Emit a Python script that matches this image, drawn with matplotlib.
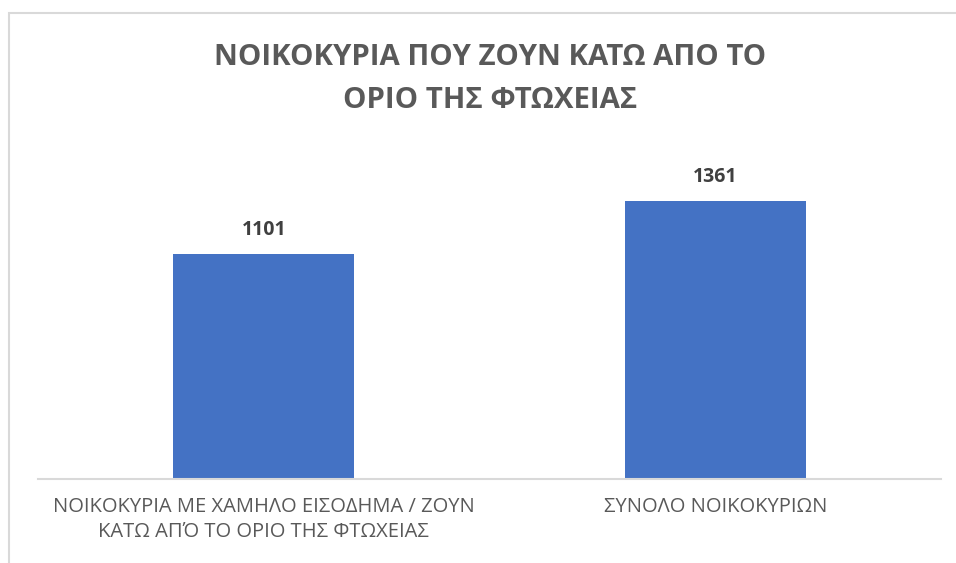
import matplotlib.pyplot as plt
from matplotlib.patches import Rectangle

# ------ Données ------
categories = ["ΝΟΙΚΟΚΥΡΙΑ ΜΕ ΧΑΜΗΛΟ ΕΙΣΟΔΗΜΑ / ΖΟΥΝ\nΚΑΤΩ ΑΠΌ ΤΟ ΟΡΙΟ ΤΗΣ ΦΤΩΧΕΙΑΣ",
              "ΣΥΝΟΛΟ ΝΟΙΚΟΚΥΡΙΩΝ"]
values = [1101, 1361]
title = "ΝΟΙΚΟΚΥΡΙΑ ΠΟΥ ΖΟΥΝ ΚΑΤΩ ΑΠΟ ΤΟ\nΟΡΙΟ ΤΗΣ ΦΤΩΧΕΙΑΣ"

BLUE = "#4472C4"
GREY = "#595959"

plt.rcParams['font.family'] = ['Open Sans', 'DejaVu Sans']

fig = plt.figure(figsize=(9.56, 5.63), dpi=100)

# cadre du graphique
fig.patches.append(Rectangle((9/956, -0.1), 1.1, (563-13)/563 + 0.1,
                             transform=fig.transFigure, fill=False,
                             edgecolor="#D9D9D9", linewidth=1.5))

ax = fig.add_axes([38/956, (563-479)/563, 903/956, 327/563])
x = range(len(values))
bars = ax.bar(x, values, width=0.4, color=BLUE)

ax.set_xlim(-0.5, 1.5)
ax.set_ylim(0, 1600)
ax.set_yticks([])
for s in ["top", "right", "left"]:
    ax.spines[s].set_visible(False)
ax.spines["bottom"].set_color("#D9D9D9")
ax.spines["bottom"].set_linewidth(1.5)

ax.set_xticks(list(x))
ax.set_xticklabels(categories, fontsize=14.5, color=GREY, linespacing=1.3)
ax.tick_params(axis="x", length=0, pad=13)

for b, v in zip(bars, values):
    ax.annotate(str(v), (b.get_x() + b.get_width()/2, v), xytext=(0, 10),
                textcoords="offset points", ha="center", va="bottom",
                fontsize=14, fontweight="bold", color="#404040")

fig.text(490/956, 1 - 79/563, title, ha="center", va="center",
         fontsize=21.2, fontweight="bold", color=GREY, linespacing=1.6)

fig.savefig("out.png", dpi=100)
